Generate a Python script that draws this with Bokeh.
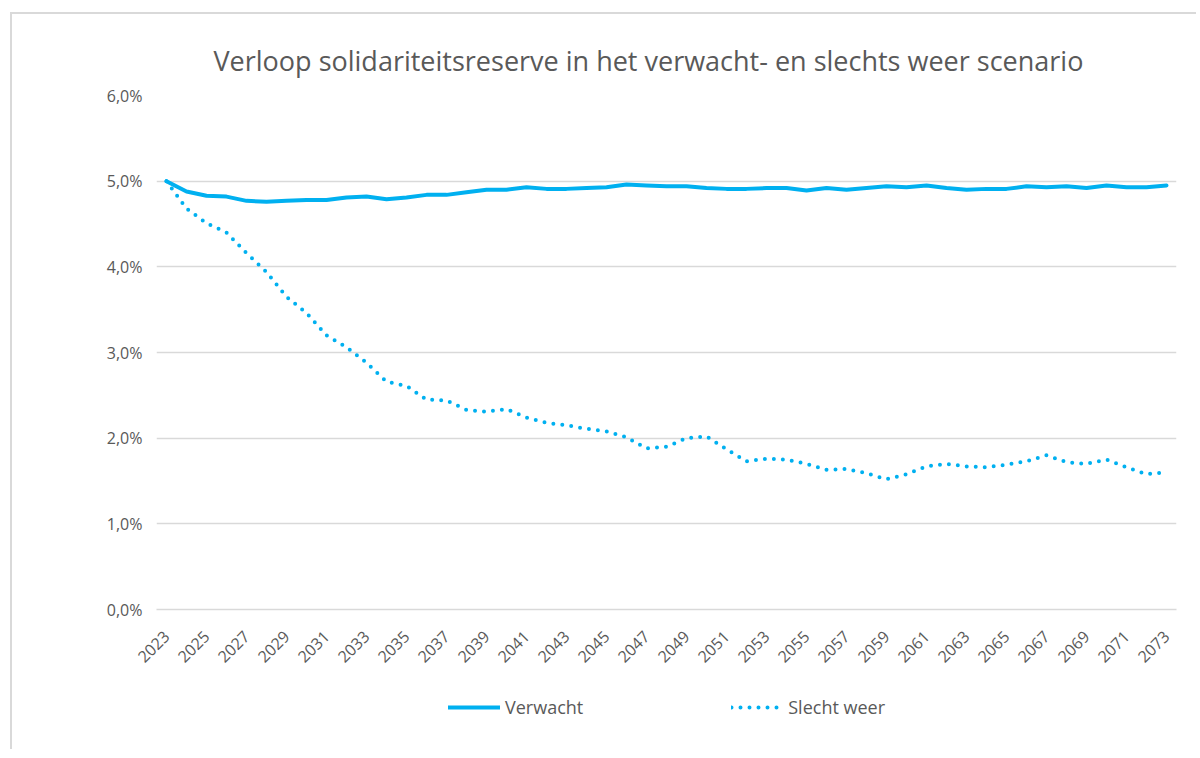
import math
from bokeh.plotting import figure
from bokeh.layouts import column
from bokeh.models import (FixedTicker, Legend, LegendItem, Range1d, Title, InlineStyleSheet)
from bokeh.embed import file_html
from bokeh.resources import INLINE

# ---- data ----
years = list(range(2023, 2074))
verwacht = [5.00, 4.88, 4.83, 4.82, 4.77, 4.76, 4.77, 4.78, 4.78, 4.81,
            4.82, 4.79, 4.81, 4.84, 4.84, 4.87, 4.90, 4.90, 4.93, 4.91,
            4.91, 4.92, 4.93, 4.96, 4.95, 4.94, 4.94, 4.92, 4.91, 4.91,
            4.92, 4.92, 4.89, 4.92, 4.90, 4.92, 4.94, 4.93, 4.95, 4.92,
            4.90, 4.91, 4.91, 4.94, 4.93, 4.94, 4.92, 4.95, 4.93, 4.93,
            4.95]
slecht_weer = [5.00, 4.68, 4.51, 4.40, 4.16, 3.94, 3.65, 3.46, 3.20, 3.06,
               2.88, 2.66, 2.61, 2.45, 2.44, 2.33, 2.31, 2.34, 2.24, 2.18,
               2.15, 2.11, 2.08, 2.01, 1.88, 1.90, 2.00, 2.02, 1.87, 1.73,
               1.76, 1.75, 1.70, 1.63, 1.64, 1.59, 1.52, 1.58, 1.67, 1.70,
               1.67, 1.66, 1.69, 1.73, 1.80, 1.72, 1.70, 1.75, 1.66, 1.58,
               1.60]
y_ticks = [0, 1, 2, 3, 4, 5, 6]
y_tick_labels = ["0,0%", "1,0%", "2,0%", "3,0%", "4,0%", "5,0%", "6,0%"]
x_ticks = years[::2]
series_names = ["Verwacht", "Slecht weer"]
title_text = "Verloop solidariteitsreserve in het verwacht- en slechts weer scenario"

FONT = "Open Sans"
GREY = "#595959"
BLUE = "#00B0F0"
GRID = "#d9d9d9"
DOT = "0 9"

border_css = InlineStyleSheet(css="""
:host { position: relative; }
:host::after {
  content: ""; position: absolute; left: 10px; top: 12px; right: 0; bottom: 0;
  border-left: 2px solid #d9d9d9; border-top: 2px solid #d9d9d9;
  pointer-events: none;
}
""")

# ---- main chart ----
p = figure(frame_width=1020, frame_height=514, output_backend="svg", toolbar_location=None,
           x_range=Range1d(years[0] - 0.5, years[-1] + 0.5),
           y_range=Range1d(0, 6),
           min_border_left=156, min_border_right=20,
           min_border_top=95, min_border_bottom=70)
p.outline_line_color = None
p.background_fill_color = "white"
p.border_fill_color = "white"

p.add_layout(Title(text=title_text, text_font=FONT, text_font_size="27px",
                   text_font_style="normal", text_color=GREY, align="left",
                   offset=57, standoff=34), "above")

line_styles = dict(line_color=BLUE, line_width=4, line_cap="round", line_join="round")
p.line(years, verwacht, **line_styles)
p.line(years, slecht_weer, line_dash=DOT, **line_styles)

p.yaxis.ticker = FixedTicker(ticks=y_ticks)
p.yaxis.major_label_overrides = {t: l for t, l in zip(y_ticks, y_tick_labels)}
p.yaxis.axis_line_color = None
p.yaxis.major_tick_line_color = None
p.yaxis.minor_tick_line_color = None
p.yaxis.major_label_text_font = FONT
p.yaxis.major_label_text_font_size = "16px"
p.yaxis.major_label_text_color = GREY
p.yaxis.major_label_standoff = 8

p.xaxis.ticker = FixedTicker(ticks=x_ticks)
p.xaxis.axis_line_color = GRID
p.xaxis.axis_line_width = 1.5
p.xaxis.major_tick_line_color = None
p.xaxis.minor_tick_line_color = None
p.xaxis.major_label_orientation = math.pi / 4
p.xaxis.major_label_text_font = FONT
p.xaxis.major_label_text_font_size = "16px"
p.xaxis.major_label_text_color = GREY
p.xaxis.major_label_standoff = 18

p.xgrid.grid_line_color = None
p.ygrid.ticker = FixedTicker(ticks=y_ticks)
p.ygrid.grid_line_color = GRID
p.ygrid.grid_line_width = 1.5

# ---- legend strip (its ranges keep the series out of view; only the legend shows) ----
lg = figure(width=1196, height=70, output_backend="svg", toolbar_location=None,
            x_axis_type=None, y_axis_type=None,
            x_range=Range1d(0, 1), y_range=Range1d(0, 1),
            min_border=0)
lg.outline_line_color = None
lg.xgrid.grid_line_color = None
lg.ygrid.grid_line_color = None
l1 = lg.line(years, verwacht, **line_styles)
l2 = lg.line(years, slecht_weer, line_dash=DOT, **line_styles)
legend = Legend(items=[LegendItem(label=series_names[0], renderers=[l1]),
                       LegendItem(label=series_names[1], renderers=[l2])],
                orientation="horizontal", location=(292, 30),
                glyph_width=52, glyph_height=20, label_standoff=5, spacing=148,
                label_text_font=FONT, label_text_font_size="18px",
                label_text_color=GREY, border_line_color=None,
                background_fill_alpha=0, margin=0, padding=0)
lg.add_layout(legend, "center")

layout = column(p, lg, spacing=0, stylesheets=[border_css])

open("out.html", "w").write(file_html(layout, INLINE))
